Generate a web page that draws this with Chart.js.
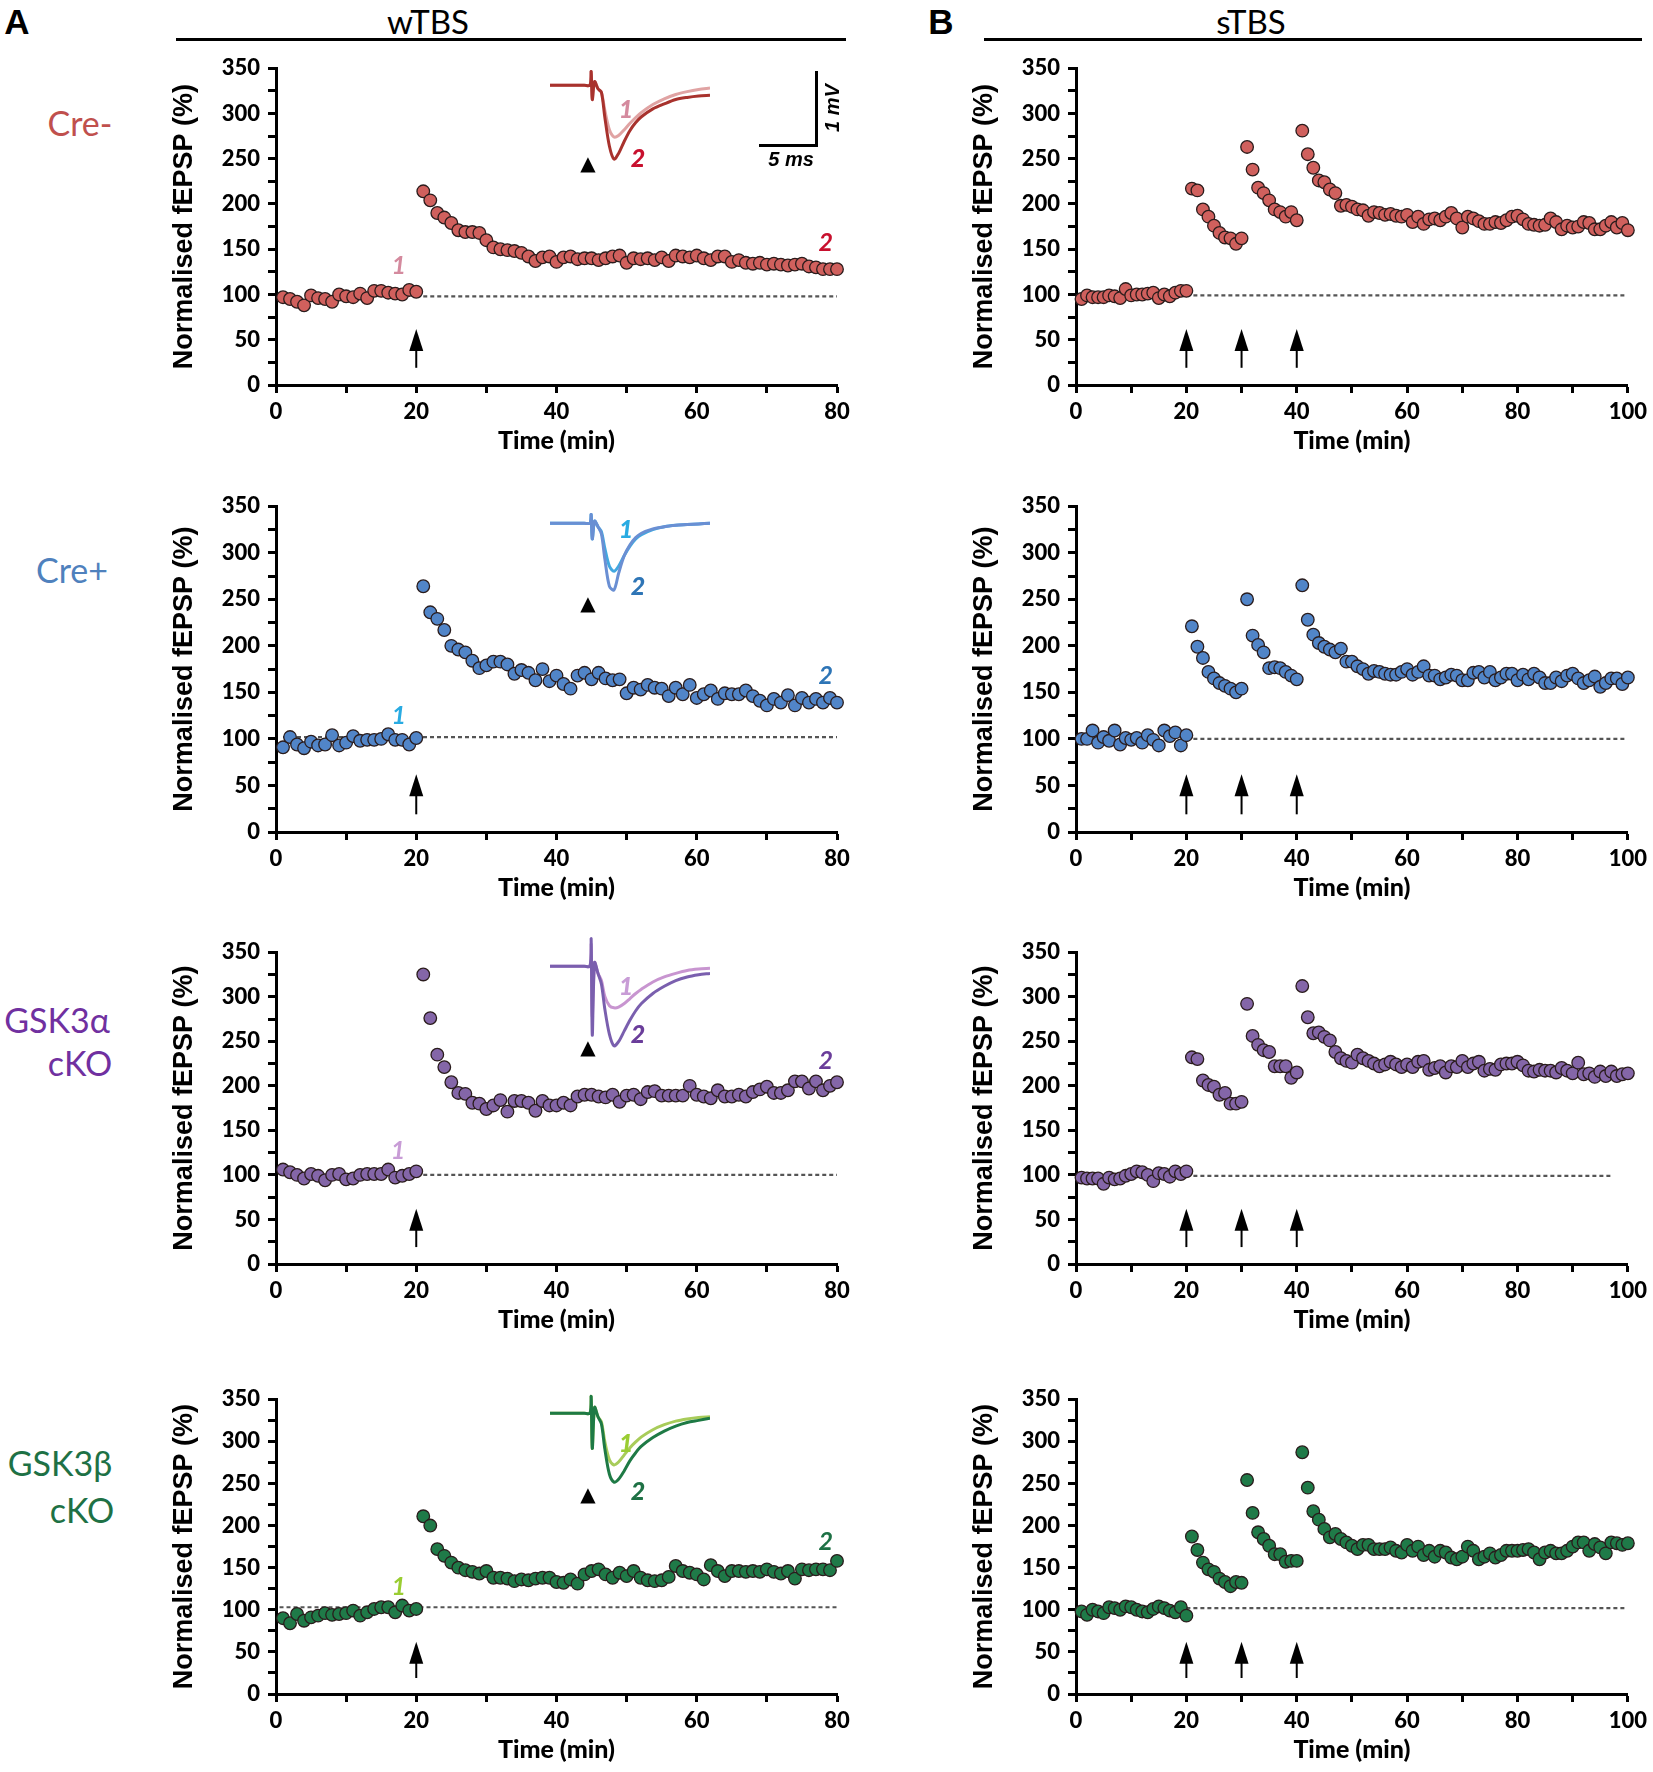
<!DOCTYPE html>
<html>
<head>
<meta charset="utf-8">
<script src="https://cdn.jsdelivr.net/npm/chart.js@4.4.0/dist/chart.umd.min.js"></script>
<style>
  body { margin: 0; background: #fff; }
  #fig { position: relative; width: 1653px; height: 1772px; overflow: hidden; background: #fff; }
  .txt { position: absolute; white-space: nowrap; line-height: 1; transform: translate(-50%, -50%); }
  .bar { position: absolute; background: #000; }
</style>
</head>
<body>
<div id="fig"></div>
<script>
// ---- data ----
const timeW = Array.from({ length: 80 }, (_, i) => i + 1);   // wTBS: 1..80 min
const timeS = Array.from({ length: 100 }, (_, i) => i + 1);  // sTBS: 1..100 min
const stimW = [20];
const stimS = [20, 30, 40];

const creMinusW = [97, 95, 92, 88, 99, 96, 95, 92, 100, 98, 97, 101, 96, 104, 104, 102, 101, 100, 105, 103,
  214, 204, 190, 185, 179, 171, 169, 169, 168, 160, 152, 150, 149, 148, 146, 142, 137, 141, 142, 136,
  141, 142, 139, 140, 140, 138, 140, 142, 143, 135, 140, 139, 140, 138, 141, 137, 143, 142, 141, 143,
  140, 138, 142, 142, 136, 138, 135, 134, 135, 133, 134, 133, 132, 133, 134, 131, 130, 128, 128, 128];
const creMinusS = [95, 99, 97, 97, 97, 99, 98, 96, 106, 99, 100, 100, 101, 102, 96, 100, 98, 102, 104, 104,
  217, 215, 194, 186, 176, 168, 163, 162, 156, 162,
  263, 238, 218, 212, 204, 194, 191, 186, 191, 182,
  281, 255, 240, 226, 224, 216, 212, 198, 199, 197, 194, 193, 187, 191, 190, 188, 189, 187, 186, 188,
  180, 186, 178, 183, 184, 182, 186, 190, 184, 174, 186, 184, 181, 178, 178, 180, 179, 182, 186, 187,
  183, 178, 177, 176, 177, 184, 180, 172, 176, 174, 175, 180, 179, 172, 172, 176, 180, 174, 179, 171];
const crePlusW = [91, 102, 94, 90, 97, 93, 94, 104, 93, 96, 103, 98, 99, 99, 100, 105, 99, 99, 94, 101,
  264, 236, 229, 217, 200, 196, 193, 184, 176, 179, 183, 183, 180, 170, 174, 171, 163, 175, 162, 168,
  159, 154, 168, 171, 164, 171, 165, 163, 164, 149, 155, 153, 158, 155, 154, 146, 155, 148, 158, 144,
  148, 152, 143, 149, 148, 148, 152, 146, 141, 136, 143, 139, 147, 136, 144, 139, 143, 139, 144, 139];
const crePlusS = [100, 100, 109, 96, 102, 98, 109, 94, 101, 99, 101, 96, 104, 99, 93, 109, 103, 107, 93, 104,
  221, 199, 187, 172, 165, 160, 157, 154, 150, 154,
  250, 211, 201, 193, 176, 177, 176, 172, 168, 164,
  265, 228, 212, 203, 199, 196, 193, 197, 183, 183, 178, 175, 170, 173, 172, 170, 169, 169, 172, 175,
  169, 172, 178, 168, 168, 164, 166, 169, 168, 163, 163, 171, 172, 166, 172, 163, 166, 170, 170, 163,
  169, 164, 170, 166, 160, 160, 166, 162, 168, 170, 165, 160, 163, 167, 156, 160, 165, 165, 159, 166];
const gskAlphaW = [106, 103, 100, 96, 101, 99, 94, 100, 101, 95, 96, 100, 101, 101, 101, 106, 97, 99, 101, 104,
  325, 276, 235, 221, 204, 192, 191, 181, 180, 174, 178, 184, 171, 183, 183, 181, 172, 183, 178, 178,
  181, 178, 188, 190, 190, 188, 187, 190, 182, 189, 190, 185, 193, 194, 189, 189, 189, 189, 200, 190,
  188, 186, 195, 188, 188, 190, 188, 193, 196, 199, 192, 192, 195, 205, 205, 197, 205, 195, 200, 204];
const gskAlphaS = [97, 96, 96, 96, 90, 97, 95, 96, 99, 101, 104, 103, 100, 93, 102, 101, 98, 104, 101, 104,
  232, 230, 206, 201, 199, 190, 192, 180, 180, 182,
  292, 256, 246, 240, 238, 222, 222, 222, 209, 215,
  312, 277, 259, 260, 255, 251, 238, 231, 228, 226, 235, 231, 228, 225, 222, 224, 227, 224, 221, 224,
  221, 227, 228, 218, 220, 222, 215, 222, 221, 228, 221, 225, 227, 217, 219, 218, 224, 225, 225, 227,
  223, 217, 216, 218, 217, 217, 215, 220, 217, 214, 226, 213, 214, 210, 216, 211, 216, 211, 213, 214];
const gskBetaW = [90, 84, 95, 87, 91, 93, 96, 94, 95, 96, 99, 93, 97, 101, 103, 103, 97, 105, 99, 101,
  211, 200, 172, 164, 156, 150, 147, 145, 143, 146, 138, 138, 137, 134, 136, 135, 137, 138, 138, 133,
  132, 136, 131, 142, 146, 148, 142, 138, 144, 140, 146, 138, 135, 134, 135, 139, 152, 146, 144, 142,
  136, 153, 146, 140, 146, 146, 145, 146, 145, 148, 145, 143, 146, 137, 148, 147, 148, 148, 147, 158];
const gskBetaS = [98, 94, 100, 98, 96, 103, 102, 100, 104, 103, 100, 98, 97, 101, 104, 102, 99, 97, 103, 93,
  187, 171, 156, 148, 145, 137, 133, 128, 133, 132,
  254, 215, 192, 184, 176, 166, 166, 157, 158, 158,
  287, 245, 217, 207, 196, 186, 190, 184, 180, 176, 172, 177, 177, 172, 172, 172, 174, 170, 168, 177,
  170, 175, 165, 170, 163, 170, 168, 162, 160, 163, 175, 170, 160, 163, 167, 162, 165, 170, 170, 170,
  171, 172, 168, 160, 168, 170, 167, 167, 170, 175, 180, 180, 170, 178, 174, 167, 180, 179, 177, 179];

// example fEPSP traces (ms, mV)
const traceTime = [0, 1, 2, 3, 3.5, 3.6, 3.7, 3.9, 4.2, 4.5, 4.8, 5.2, 5.6, 6.0, 6.5, 7, 7.5, 8, 9, 10, 11, 12, 13, 14];
const creMinusTr1 = [0, 0, 0, 0, 0, 0.19, -0.2, 0.05, -0.05, -0.1, -0.35, -0.62, -0.72, -0.7, -0.62, -0.53, -0.45, -0.38, -0.27, -0.19, -0.13, -0.09, -0.06, -0.04];
const creMinusTr2 = [0, 0, 0, 0, 0, 0.19, -0.2, 0.05, -0.05, -0.1, -0.45, -0.85, -1.03, -0.95, -0.78, -0.63, -0.52, -0.44, -0.33, -0.26, -0.2, -0.17, -0.15, -0.14];
const crePlusTr1 = [0, 0, 0, 0, 0, 0.12, -0.22, 0.03, -0.05, -0.12, -0.35, -0.6, -0.67, -0.6, -0.45, -0.32, -0.22, -0.16, -0.09, -0.05, -0.03, -0.02, -0.01, 0];
const crePlusTr2 = [0, 0, 0, 0, 0, 0.12, -0.22, 0.03, -0.05, -0.15, -0.5, -0.88, -0.93, -0.7, -0.45, -0.3, -0.2, -0.14, -0.08, -0.05, -0.03, -0.02, -0.01, 0];
const gskAlphaTr1 = [0, 0, 0, 0, 0, 0.3, -0.7, 0.05, -0.1, -0.2, -0.42, -0.55, -0.58, -0.57, -0.52, -0.45, -0.38, -0.32, -0.22, -0.15, -0.1, -0.06, -0.04, -0.03];
const gskAlphaTr2 = [0, 0, 0, 0, 0, 0.38, -0.96, 0.05, -0.1, -0.25, -0.6, -0.95, -1.11, -1.05, -0.9, -0.75, -0.62, -0.52, -0.38, -0.28, -0.2, -0.15, -0.12, -0.1];
const gskBetaTr1 = [0, 0, 0, 0, 0, 0.23, -0.49, 0.08, -0.05, -0.12, -0.4, -0.65, -0.72, -0.68, -0.58, -0.48, -0.4, -0.33, -0.23, -0.16, -0.11, -0.08, -0.06, -0.05];
const gskBetaTr2 = [0, 0, 0, 0, 0, 0.23, -0.49, 0.08, -0.05, -0.15, -0.5, -0.85, -0.96, -0.92, -0.8, -0.66, -0.55, -0.46, -0.34, -0.25, -0.18, -0.13, -0.1, -0.07];

// ---- layout ----
const fig = document.getElementById('fig');
const ROWS = [
  { top: 67, bottom: 385, base: 85 },
  { top: 505, bottom: 832, base: 523 },
  { top: 951, bottom: 1264, base: 966 },
  { top: 1398, bottom: 1694, base: 1413 },
];
const SIDES = { L: { left: 140, width: 722, padR: 25 }, R: { left: 940, width: 713, padR: 17 } };
const PAD_TOP = 20, X_H = 75, Y_W = 136;

function addText(txt, x, y, css) {
  const d = document.createElement('div');
  d.className = 'txt';
  d.textContent = txt;
  d.style.left = x + 'px';
  d.style.top = y + 'px';
  Object.assign(d.style, css);
  fig.appendChild(d);
  return d;
}
function addBar(x, y, w, h) {
  const d = document.createElement('div');
  d.className = 'bar';
  d.style.cssText += `left:${x}px;top:${y}px;width:${w}px;height:${h}px;`;
  fig.appendChild(d);
}
function makeCanvas(left, top, w, h) {
  const c = document.createElement('canvas');
  c.width = w; c.height = h;
  c.style.cssText = `position:absolute;left:${left}px;top:${top}px;width:${w}px;height:${h}px;`;
  fig.appendChild(c);
  return c;
}

// arrows + "1"/"2" markers on the main panels
const annotPlugin = {
  id: 'annot',
  afterDatasetsDraw(chart, args, opts) {
    const { ctx, scales: { x, y } } = chart;
    ctx.save();
    opts.stims.forEach(t => {
      const px = x.getPixelForValue(t);
      const yb = y.getPixelForValue(19), yt = y.getPixelForValue(62);
      ctx.strokeStyle = '#000';
      ctx.lineWidth = 2;
      ctx.beginPath(); ctx.moveTo(px, yb); ctx.lineTo(px, yt + 14); ctx.stroke();
      ctx.fillStyle = '#000';
      ctx.beginPath(); ctx.moveTo(px, yt); ctx.lineTo(px - 7, yt + 22); ctx.lineTo(px + 7, yt + 22); ctx.closePath(); ctx.fill();
    });
    opts.marks.forEach(m => {
      ctx.font = 'italic bold 25px Lato, sans-serif';
      ctx.fillStyle = m.color;
      ctx.textAlign = 'center';
      ctx.textBaseline = 'middle';
      ctx.fillText(m.text, x.getPixelForValue(m.t), y.getPixelForValue(m.v));
    });
    ctx.restore();
  }
};

const tickFont = { family: 'Lato, sans-serif', weight: '900', size: 22 };

function makePanel(p) {
  const row = ROWS[p.row], side = SIDES[p.side];
  const top = row.top - PAD_TOP;
  const h = row.bottom - row.top + PAD_TOP + X_H;
  const canvas = makeCanvas(side.left, top, side.width, h);
  const pts = p.values.map((v, i) => ({ x: p.times[i], y: v }));
  new Chart(canvas, {
    type: 'scatter',
    data: {
      datasets: [
        { data: pts, backgroundColor: p.fill, borderColor: '#2a1c1c', borderWidth: 1.3, pointRadius: 6.3, clip: false },
        { type: 'line', data: [{ x: p.ref[0], y: p.ref[2] }, { x: p.ref[1], y: p.ref[2] }],
          borderColor: '#555', borderWidth: 2.2, borderDash: [4, 3], pointRadius: 0, fill: false }
      ]
    },
    options: {
      responsive: false,
      animation: false,
      events: [],
      layout: { padding: { top: PAD_TOP, right: side.padR, bottom: 0, left: 0 } },
      plugins: {
        legend: { display: false },
        tooltip: { enabled: false },
        annot: { stims: p.stims, marks: p.marks || [] }
      },
      scales: {
        x: {
          type: 'linear', min: 0, max: p.xMax,
          ticks: { stepSize: 10, autoSkip: false, maxRotation: 0, padding: 6, color: '#000', font: tickFont,
                   callback: v => (v % 20 === 0 ? v : '') },
          grid: { drawOnChartArea: false, drawTicks: true, tickLength: 8, tickColor: '#000', tickWidth: 3 },
          border: { display: true, color: '#000', width: 3 },
          title: { display: true, text: 'Time (min)', color: '#000',
                   font: { family: 'Lato, sans-serif', weight: '900', size: 25 }, padding: { top: 0, bottom: 4 } },
          afterFit: s => { s.height = X_H; }
        },
        y: {
          min: 0, max: 350,
          ticks: { stepSize: 25, autoSkip: false, padding: 8, color: '#000', font: tickFont,
                   callback: v => (v % 50 === 0 ? v : '') },
          grid: { drawOnChartArea: false, drawTicks: true, tickLength: 8, tickColor: '#000', tickWidth: 3 },
          border: { display: true, color: '#000', width: 3 },
          title: { display: true, text: 'Normalised fEPSP (%)', color: '#000',
                   font: { family: '"Liberation Sans", Arial, sans-serif', weight: 'bold', size: 27 },
                   padding: { top: 28, bottom: 0 } },
          afterFit: s => { s.width = Y_W; }
        }
      }
    },
    plugins: [annotPlugin]
  });
}

function makeInset(rowIdx, tr1, tr2, c1, c2) {
  const row = ROWS[rowIdx];
  const canvas = makeCanvas(550, row.base - 30, 160, 120);
  new Chart(canvas, {
    type: 'line',
    data: {
      labels: traceTime,
      datasets: [
        { data: traceTime.map((t, i) => ({ x: t, y: tr2[i] })), borderColor: c2, borderWidth: 3, pointRadius: 0, tension: 0.3 },
        { data: traceTime.map((t, i) => ({ x: t, y: tr1[i] })), borderColor: c1, borderWidth: 3, pointRadius: 0, tension: 0.3 }
      ]
    },
    options: {
      responsive: false, animation: false, events: [],
      layout: { padding: 0 },
      plugins: { legend: { display: false }, tooltip: { enabled: false } },
      scales: {
        x: { type: 'linear', min: 0, max: 14, display: false },
        y: { min: -1.25, max: 0.42, display: false }
      }
    }
  });
}

// ---- colours ----
const C = {
  creMinus: { fill: '#d0605d', label: '#c0504d', l1: '#d48a9e', l2: '#c8102e', t1: '#e0a3a3', t2: '#a8322d' },
  crePlus:  { fill: '#5185c8', label: '#4f81bd', l1: '#29abe2', l2: '#2e75b6', t1: '#42a8e0', t2: '#6a8fd3' },
  gskA:     { fill: '#8466a8', label: '#7030a0', l1: '#c89cd6', l2: '#6a3d9a', t1: '#c895d0', t2: '#7a5fae' },
  gskB:     { fill: '#1f7a48', label: '#1e7145', l1: '#9acd32', l2: '#1e7145', t1: '#a8cc5a', t2: '#1e7a45' },
};

// ---- panels ----
makePanel({ row: 0, side: 'L', times: timeW, values: creMinusW, xMax: 80, stims: stimW, fill: C.creMinus.fill,
  ref: [20, 80, 98], marks: [{ text: '1', t: 17.5, v: 131, color: C.creMinus.l1 }, { text: '2', t: 78.4, v: 157, color: C.creMinus.l2 }] });
makePanel({ row: 0, side: 'R', times: timeS, values: creMinusS, xMax: 100, stims: stimS, fill: C.creMinus.fill, ref: [20, 99.5, 99] });
makePanel({ row: 1, side: 'L', times: timeW, values: crePlusW, xMax: 80, stims: stimW, fill: C.crePlus.fill,
  ref: [1, 80, 102], marks: [{ text: '1', t: 17.5, v: 125, color: C.crePlus.l1 }, { text: '2', t: 78.4, v: 168, color: C.crePlus.l2 }] });
makePanel({ row: 1, side: 'R', times: timeS, values: crePlusS, xMax: 100, stims: stimS, fill: C.crePlus.fill, ref: [20, 99.5, 100] });
makePanel({ row: 2, side: 'L', times: timeW, values: gskAlphaW, xMax: 80, stims: stimW, fill: C.gskA.fill,
  ref: [20, 80, 100], marks: [{ text: '1', t: 17.4, v: 127, color: C.gskA.l1 }, { text: '2', t: 78.4, v: 228, color: C.gskA.l2 }] });
makePanel({ row: 2, side: 'R', times: timeS, values: gskAlphaS, xMax: 100, stims: stimS, fill: C.gskA.fill, ref: [20, 97, 99] });
makePanel({ row: 3, side: 'L', times: timeW, values: gskBetaW, xMax: 80, stims: stimW, fill: C.gskB.fill,
  ref: [0.5, 80, 103], marks: [{ text: '1', t: 17.5, v: 127, color: C.gskB.l1 }, { text: '2', t: 78.4, v: 180, color: C.gskB.l2 }] });
makePanel({ row: 3, side: 'R', times: timeS, values: gskBetaS, xMax: 100, stims: stimS, fill: C.gskB.fill, ref: [20, 99.5, 102] });

// ---- insets ----
makeInset(0, creMinusTr1, creMinusTr2, C.creMinus.t1, C.creMinus.t2);
makeInset(1, crePlusTr1, crePlusTr2, C.crePlus.t1, C.crePlus.t2);
makeInset(2, gskAlphaTr1, gskAlphaTr2, C.gskA.t1, C.gskA.t2);
makeInset(3, gskBetaTr1, gskBetaTr2, C.gskB.t1, C.gskB.t2);

const insetNum = { fontFamily: 'Lato, sans-serif', fontWeight: '900', fontStyle: 'italic', fontSize: '25px' };
const insetCols = [C.creMinus, C.crePlus, C.gskA, C.gskB];
const inset1dy = [23, 5, 19, 29];
const inset2dy = [72, 62, 67, 77];
ROWS.forEach((r, i) => {
  addText('1', 626, r.base + inset1dy[i], Object.assign({ color: insetCols[i].l1 }, insetNum));
  addText('2', 638, r.base + inset2dy[i], Object.assign({ color: insetCols[i].l2 }, insetNum));
  addText('\u25B2', 588, r.base + [78, 80, 81, 81][i], { fontSize: '20px', color: '#000', fontFamily: '"DejaVu Sans", sans-serif' });
});

// scale bar (row 1 only)
addBar(815, 71, 3, 76);
addBar(759, 144, 59, 3);
addText('1 mV', 832, 108, { fontFamily: '"Liberation Sans", Arial, sans-serif', fontWeight: 'bold', fontStyle: 'italic', fontSize: '20px',
  transform: 'translate(-50%, -50%) rotate(-90deg)' });
addText('5 ms', 791, 159, { fontFamily: '"Liberation Sans", Arial, sans-serif', fontWeight: 'bold', fontStyle: 'italic', fontSize: '20px' });

// ---- headers ----
const headBold = { fontFamily: '"Liberation Sans", Arial, sans-serif', fontWeight: 'bold', fontSize: '35px', color: '#000' };
addText('A', 17, 21, headBold);
addText('B', 941, 21, headBold);
const headTxt = { fontFamily: 'Lato, sans-serif', fontSize: '33px', color: '#000' };
addText('wTBS', 428, 21, headTxt);
addText('sTBS', 1251, 21, headTxt);
addBar(176, 38, 670, 3);
addBar(984, 38, 658, 3);

// ---- row labels ----
const rowFont = { fontFamily: 'Lato, sans-serif', fontSize: '34px' };
addText('Cre-', 80, 123, Object.assign({ color: C.creMinus.label }, rowFont));
addText('Cre+', 72, 570, Object.assign({ color: C.crePlus.label }, rowFont));
addText('GSK3\u03B1', 57, 1020, Object.assign({ color: C.gskA.label }, rowFont));
addText('cKO', 80, 1063, Object.assign({ color: C.gskA.label }, rowFont));
addText('GSK3\u03B2', 60, 1463, Object.assign({ color: C.gskB.label }, rowFont));
addText('cKO', 82, 1510, Object.assign({ color: C.gskB.label }, rowFont));
</script>
</body>
</html>
